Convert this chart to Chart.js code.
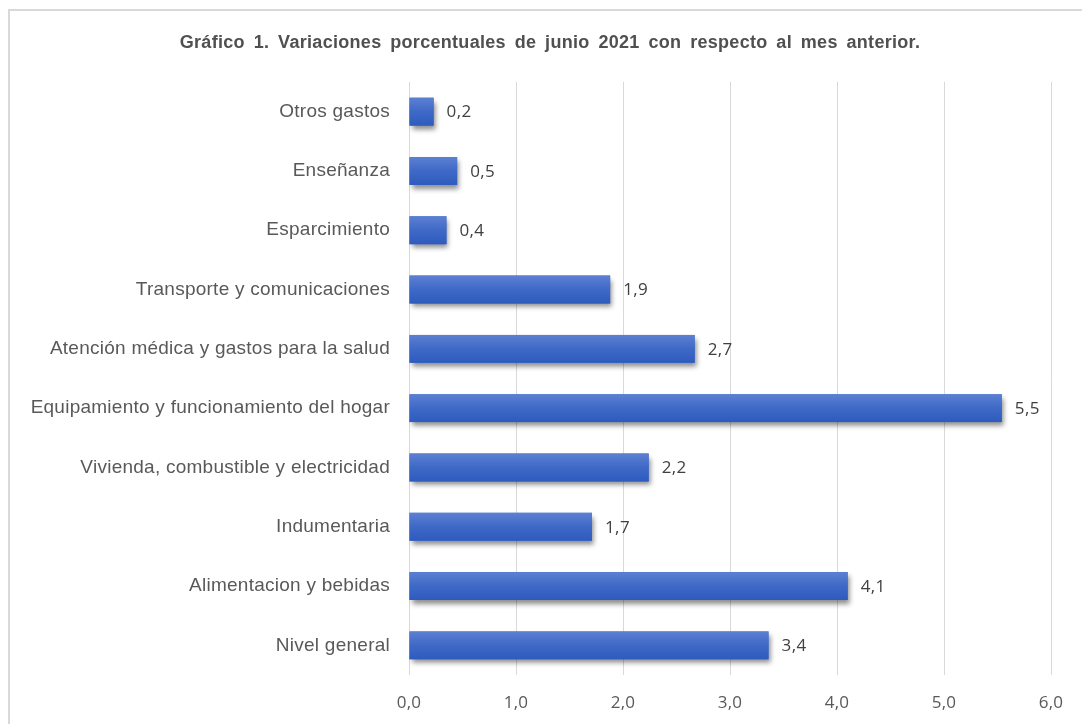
<!DOCTYPE html>
<html>
<head>
<meta charset="utf-8">
<script src="https://cdn.jsdelivr.net/npm/chart.js@4"></script>
<style>
  html, body { margin: 0; padding: 0; background: #fff; overflow: hidden; }
  #frame { position: absolute; left: 8px; top: 9px; width: 2000px; height: 2000px; border: 2px solid #d9d9d9; box-sizing: border-box; }
  #wrap { position: absolute; left: 0; top: 0; width: 1082px; height: 724px; }
</style>
</head>
<body>
<div id="frame"></div>
<div id="wrap"><canvas id="c" width="1082" height="724"></canvas></div>
<script>
const titleText = "Gráfico 1. Variaciones porcentuales de junio 2021 con respecto al mes anterior.";
const categories = [
  "Otros gastos",
  "Enseñanza",
  "Esparcimiento",
  "Transporte y comunicaciones",
  "Atención médica y gastos para la salud",
  "Equipamiento y funcionamiento del hogar",
  "Vivienda, combustible y electricidad",
  "Indumentaria",
  "Alimentacion y bebidas",
  "Nivel general"
];
const values = [0.23, 0.45, 0.35, 1.88, 2.67, 5.54, 2.24, 1.71, 4.10, 3.36];
const valueLabels = ["0,2", "0,5", "0,4", "1,9", "2,7", "5,5", "2,2", "1,7", "4,1", "3,4"];
const xTicks = ["0,0", "1,0", "2,0", "3,0", "4,0", "5,0", "6,0"];

const barLook = {
  id: 'barLook',
  beforeDraw(chart) {
    chart.ctx.letterSpacing = '0.25px';
  },
  beforeDatasetsDraw(chart) {
    const ctx = chart.ctx;
    ctx.letterSpacing = '0px';
    ctx.save();
    ctx.shadowColor = 'rgba(0,0,0,0.45)';
    ctx.shadowBlur = 5;
    ctx.shadowOffsetX = 2;
    ctx.shadowOffsetY = 4;
  },
  afterDatasetsDraw(chart) {
    const ctx = chart.ctx;
    ctx.restore();
    const meta = chart.getDatasetMeta(0);
    ctx.save();
    meta.data.forEach((el, i) => {
      const p = el.getProps(['x', 'y', 'base', 'height'], true);
      const top = p.y - p.height / 2;
      const g = ctx.createLinearGradient(0, top, 0, top + p.height);
      g.addColorStop(0, '#5c80d2');
      g.addColorStop(0.5, '#3f69c7');
      g.addColorStop(1, '#2d5bbd');
      ctx.fillStyle = g;
      ctx.fillRect(Math.min(p.base, p.x), top, Math.abs(p.x - p.base), p.height);
      ctx.fillStyle = '#404040';
      ctx.letterSpacing = '0.4px';
      ctx.font = '17px "Open Sans", "Noto Sans", sans-serif';
      ctx.textAlign = 'left';
      ctx.textBaseline = 'middle';
      ctx.fillText(valueLabels[i], p.x + 13, p.y + 1);
    });
    ctx.restore();
  },
  afterDraw(chart) {
    const ctx = chart.ctx;
    ctx.save();
    ctx.letterSpacing = '0.3px';
    ctx.wordSpacing = '3.5px';
    ctx.font = 'bold 18px "Liberation Sans", Arial, sans-serif';
    ctx.fillStyle = '#505050';
    ctx.textAlign = 'center';
    ctx.textBaseline = 'middle';
    ctx.fillText(titleText, 550, 43);
    ctx.restore();
    ctx.letterSpacing = '0px';
    ctx.wordSpacing = '0px';
  }
};

new Chart(document.getElementById('c'), {
  type: 'bar',
  data: {
    labels: categories,
    datasets: [{
      data: values,
      backgroundColor: '#3f69c7',
      borderWidth: 0,
      categoryPercentage: 1,
      barPercentage: 0.47
    }]
  },
  plugins: [barLook],
  options: {
    indexAxis: 'y',
    responsive: false,
    animation: false,
    devicePixelRatio: 1,
    layout: { padding: { left: 0, right: 31, top: 82, bottom: 0 } },
    plugins: {
      legend: { display: false },
      tooltip: { enabled: false },
      title: { display: false }
    },
    scales: {
      x: {
        min: 0,
        max: 6,
        grid: { color: '#d9d9d9', lineWidth: 1, drawTicks: false },
        border: { display: false },
        ticks: {
          stepSize: 1,
          padding: 18,
          color: '#595959',
          font: { family: '"Open Sans", "Noto Sans", sans-serif', size: 17 },
          callback: (v, i) => xTicks[i]
        },
        afterFit(s) { s.height = 49; }
      },
      y: {
        grid: { display: false, drawTicks: false },
        border: { display: false },
        ticks: {
          padding: 19,
          color: '#595959',
          font: { family: '"Liberation Sans", Arial, sans-serif', size: 19 }
        },
        afterFit(s) { s.width = 409; }
      }
    }
  }
});
</script>
</body>
</html>
